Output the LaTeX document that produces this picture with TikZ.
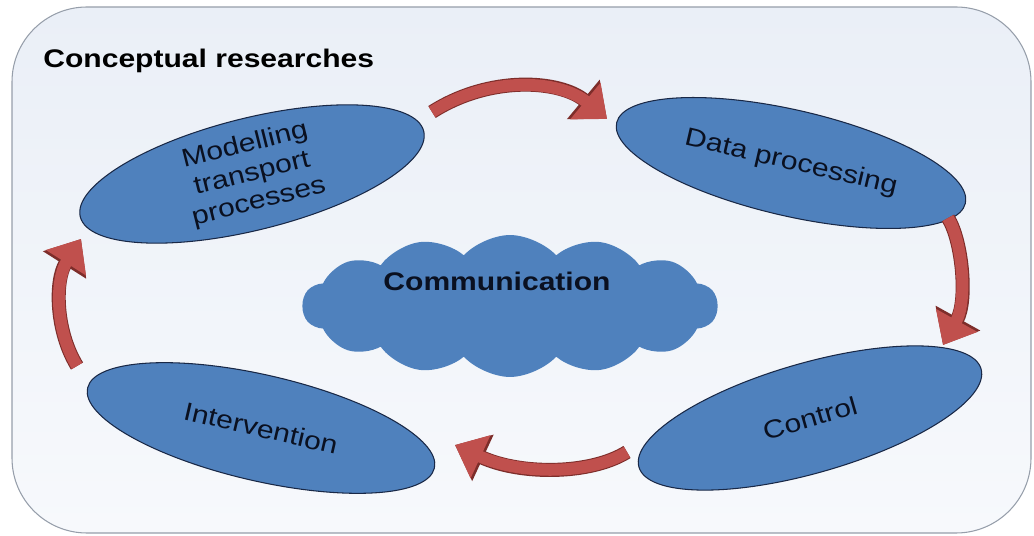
\documentclass[tikz,border=0pt]{standalone}
\usepackage{fontspec}
\setmainfont{Liberation Sans}[FakeStretch=1.18]
\usetikzlibrary{shapes.geometric, shapes.symbols, arrows.meta}
\definecolor{panelfill}{RGB}{234,239,247}
\definecolor{panellight}{RGB}{247,249,252}
\definecolor{panelborder}{RGB}{150,158,170}
\definecolor{stagefill}{RGB}{79,129,189}
\definecolor{stageborder}{RGB}{25,40,70}
\definecolor{stagetext}{RGB}{10,16,32}
\definecolor{arrowred}{RGB}{192,80,77}
\definecolor{arrowedge}{RGB}{125,45,42}
\tikzset{
    stage/.style={ellipse, draw=stageborder, line width=0.6pt, fill=stagefill,
        inner sep=0pt, align=center, text=stagetext,
        font=\fontsize{14.5}{16.5}\selectfont},
    cloudshape/.style={cloud, cloud puffs=14, cloud puff arc=95, cloud ignores aspect,
        fill=stagefill, draw=none, minimum width=8.3cm, minimum height=2.84cm},
    cyclearrow/.style={draw=arrowred, line width=6.8pt, -{Triangle[width=26pt,length=16pt]},
        preaction={draw=arrowedge, line width=8pt, -{Triangle[width=28pt,length=17.5pt]}}}
}

\begin{document}
\begin{tikzpicture}[x=0.02cm, y=-0.02cm]
    \useasboundingbox (0,0) rectangle (1034,536);
    % panel
    \draw[panelborder, line width=0.6pt, rounded corners=1.5cm,
        top color=panelfill, bottom color=panellight] (12,7) rectangle (1031,533);
    \node[anchor=base west, inner sep=0pt, font=\bfseries\fontsize{14.5}{17}\selectfont] (title) at (43,68) {Conceptual researches};

    % stages
    \node[stage, rotate=14, inner ysep=-4pt, minimum width=7.08cm, minimum height=2.24cm] (model) at (252,174) {Modelling\\transport\\processes};
    \node[stage, rotate=-13, minimum width=7.16cm, minimum height=2.12cm] (data) at (791,163) {Data processing};
    \node[stage, rotate=16, minimum width=7.12cm, minimum height=2.2cm] (control) at (810,418) {Control};
    \node[stage, rotate=-13, minimum width=7.12cm, minimum height=2.12cm] (interv) at (261,428) {Intervention};

    \node[cloudshape] (comm) at (510,306) {};
    \node[inner sep=0pt, text=stagetext, font=\bfseries\fontsize{14.5}{17}\selectfont] (commlabel) at (497,281) {Communication};

    % cycle arrows
    \coordinate (a1s) at (432,112);
    \coordinate (a1e) at (607,119);
    \coordinate (a2s) at (948,218);
    \coordinate (a2e) at (943,345);
    \coordinate (a3s) at (627,452);
    \coordinate (a3e) at (455,445);
    \coordinate (a4s) at (77,366);
    \coordinate (a4e) at (81,239);
    \draw[cyclearrow] (a1s) .. controls (490,75) and (560,80) .. (a1e);
    \draw[cyclearrow] (a2s) .. controls (962,240) and (968,300) .. (a2e);
    \draw[cyclearrow] (a3s) .. controls (590,475) and (520,475) .. (a3e);
    \draw[cyclearrow] (a4s) .. controls (55,330) and (55,280) .. (a4e);
\end{tikzpicture}
\end{document}
